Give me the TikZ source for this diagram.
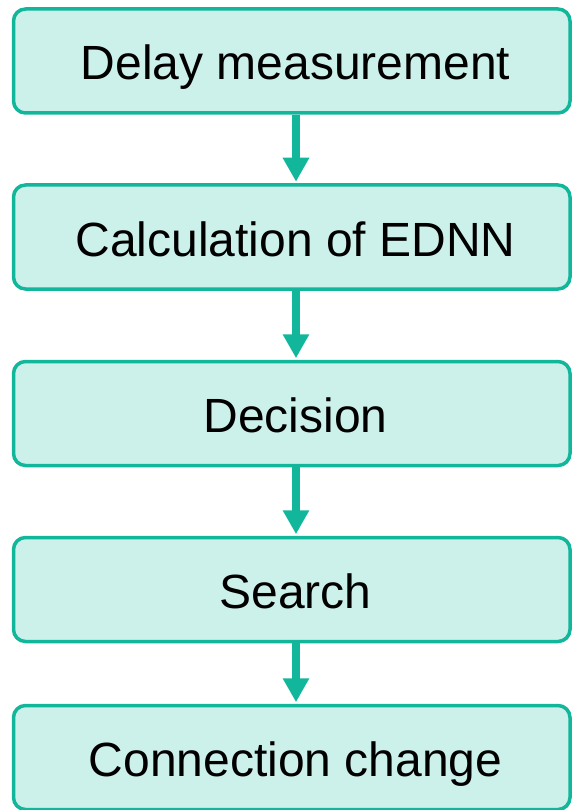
\documentclass[tikz,border=0pt]{standalone}
\usepackage{fontspec}
\setmainfont{Liberation Sans}
\usetikzlibrary{arrows.meta}
\definecolor{stepborder}{RGB}{18,183,155}
\definecolor{stepfill}{RGB}{204,240,234}
\begin{document}
\begin{tikzpicture}[x=1pt,y=-1pt,
  stepbox/.style={draw=stepborder, fill=stepfill, line width=3.5pt,
    rounded corners=12pt, minimum width=556.5pt, minimum height=104pt,
    inner sep=0pt, text height=38pt, text depth=0pt,
    execute at begin node=\hspace*{7.5pt},
    font=\fontsize{48}{58}\selectfont, text=black},
  flowarrow/.style={draw=stepborder, line width=8pt,
    -{Triangle[width=25pt,length=24pt]}, shorten >=1.5pt}]
  \useasboundingbox (0,0) rectangle (572,810);
  \node[stepbox] (b1) at (291.75,61)   {Delay measurement};
  \node[stepbox] (b2) at (291.75,237)  {Calculation of EDNN};
  \node[stepbox] (b3) at (291.75,413.5){Decision};
  \node[stepbox] (b4) at (291.75,589.5){Search};
  \node[stepbox] (b5) at (291.75,757.5){Connection change};
  \coordinate (ax) at (296,0);
  \draw[flowarrow] (b1.south -| ax) -- (b2.north -| ax);
  \draw[flowarrow] (b2.south -| ax) -- (b3.north -| ax);
  \draw[flowarrow] (b3.south -| ax) -- (b4.north -| ax);
  \draw[flowarrow] (b4.south -| ax) -- (b5.north -| ax);
\end{tikzpicture}
\end{document}
